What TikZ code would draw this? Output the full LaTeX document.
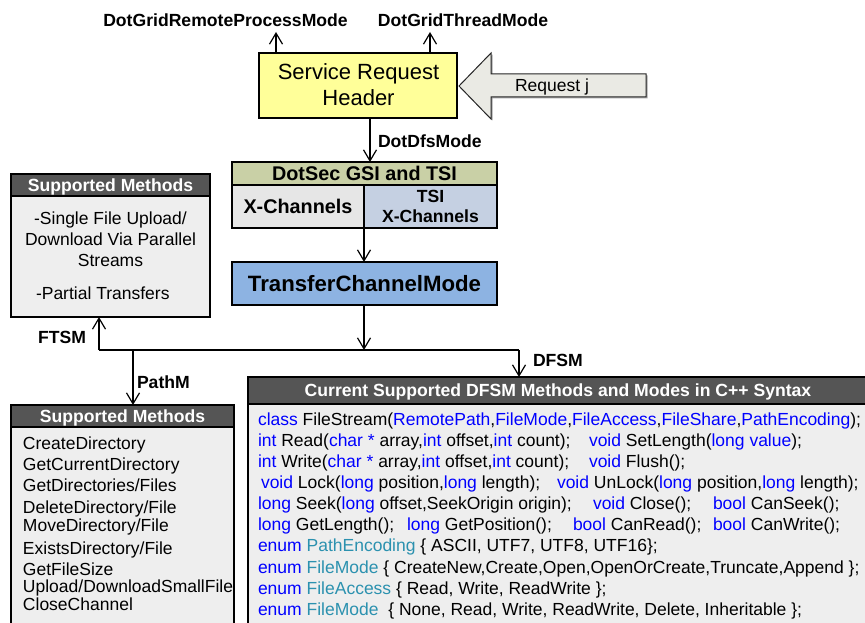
\documentclass[tikz,border=0pt]{standalone}
\usepackage{fontspec}
\setmainfont{Liberation Sans}
\usetikzlibrary{arrows.meta}
\definecolor{kwblue}{HTML}{0000FF}
\definecolor{tyteal}{HTML}{2B91AF}
\definecolor{hdrgray}{HTML}{555555}
\definecolor{bodygray}{HTML}{EEEEEE}
\definecolor{srhyellow}{HTML}{FFFF99}
\definecolor{dsolive}{HTML}{C9D0A6}
\definecolor{cellgray}{HTML}{E6E6E6}
\definecolor{cellblue}{HTML}{C5D0E2}
\definecolor{tcmblue}{HTML}{8DB3E2}
\definecolor{reqfill}{HTML}{EAEAE4}
\newcommand\kwd[1]{\textcolor{kwblue}{#1}}
\newcommand\tyn[1]{\textcolor{tyteal}{#1}}
\begin{document}
\begin{tikzpicture}[x=1pt,y=-1pt,
  every node/.style={inner sep=0pt,outer sep=0pt},
  conn/.style={line width=1.2pt,-{Straight Barb[length=11pt,width=13pt]}},
  plain/.style={line width=1.2pt},
  box/.style={draw=black,line width=1.3pt,rectangle,anchor=north west},
  hdr/.style={box,fill=hdrgray,text=white,font=\fontsize{17.6}{21}\selectfont\bfseries,text height=12.6pt,text depth=0pt},
  body/.style={box,fill=bodygray},
  txt/.style={font=\fontsize{17.5}{21}\selectfont},
  btxt/.style={font=\fontsize{17.6}{21}\selectfont\bfseries},
  codeline/.style={txt,anchor=base west}
]
\clip (0,0) rectangle (865,623);
\fill[white] (0,0) rectangle (865,623);

% top labels
\node[btxt,anchor=base] (lgrp) at (225.5,26.3) {DotGridRemoteProcessMode};
\node[btxt,anchor=base] (lgtm) at (463,26.3) {DotGridThreadMode};

% service request header
\node[box,fill=srhyellow,minimum width=198pt,minimum height=65pt] (srh) at (259,53) {};
\node[font=\fontsize{22}{26}\selectfont,anchor=base] (srh1) at (358.5,80) {Service Request};
\node[font=\fontsize{22}{26}\selectfont,anchor=base] (srh2) at (358.5,106) {Header};
\coordinate (up1) at (276,32);
\coordinate (up2) at (430,32);
\draw[conn] (up1 |- srh.north) -- (up1);
\draw[conn] (up2 |- srh.north) -- (up2);

% request arrow
\fill[gray!70] (460.5,87.5) -- (492.5,54.5) -- (492.5,75.5) -- (647.5,75.5) -- (647.5,98.5) -- (492.5,98.5) -- (492.5,120.5) -- cycle;
\draw[fill=reqfill,draw=black!85,line width=1pt] (459,86) -- (491,53) -- (491,74) -- (646,74) -- (646,97) -- (491,97) -- (491,119) -- cycle;
\node[txt,anchor=base] (req) at (552,91.5) {Request j};

% DotSec block
\node[box,fill=dsolive,minimum width=265pt,minimum height=23pt,font=\fontsize{19.8}{22}\selectfont\bfseries,text height=14.2pt,text depth=0pt] (dsh) at (232,162) {DotSec GSI and TSI};
\node[box,fill=cellgray,minimum width=132pt,minimum height=43pt,font=\fontsize{19.8}{22}\selectfont\bfseries,text height=14.2pt,text depth=0pt] (xc1) at (232,185) {X-Channels};
\node[box,fill=cellblue,minimum width=133pt,minimum height=43pt] (xc2) at (364,185) {};
\node[btxt,anchor=base] (tsi1) at (430.5,202.3) {TSI};
\node[btxt,anchor=base] (tsi2) at (430.5,222.3) {X-Channels};

\draw[conn] ([xshift=12pt]srh.south) -- ([xshift=12pt]srh.south |- dsh.north);
\node[btxt,anchor=base west] (ldfs) at (378,147.3) {DotDfsMode};

% TransferChannelMode
\node[box,fill=tcmblue,minimum width=265pt,minimum height=43pt,font=\fontsize{22.2}{26}\selectfont\bfseries,text height=15.9pt,text depth=0pt] (tcm) at (232,262) {TransferChannelMode};
\draw[conn] (xc1.south east) -- (xc1.south east |- tcm.north);

% distribution lines
\coordinate (jl) at (99,350);
\coordinate (jr) at (519,350);
\coordinate (jp) at (133,350);
\coordinate (jm) at (364,350);
\draw[conn] (jm |- tcm.south) -- (jm);
\draw[plain] (jl) -- (jr);

% top-left supported methods
\node[hdr,minimum width=199pt,minimum height=22pt] (sm1h) at (11,174) {Supported Methods};
\node[body,minimum width=199pt,minimum height=121pt] (sm1b) at (11,196) {};
\node[txt,anchor=base] (sm1l1) at (110.5,224.3) {-Single File Upload/};
\node[txt,anchor=base] (sm1l2) at (110.5,245.3) {Download Via Parallel};
\node[txt,anchor=base] (sm1l3) at (110.5,266.3) {Streams};
\node[txt,anchor=base west] (sm1l4) at (36,299.3) {-Partial Transfers};

% bottom-left supported methods
\node[hdr,minimum width=223pt,minimum height=22pt] (sm2h) at (11,405) {Supported Methods};
\node[body,minimum width=223pt,minimum height=230pt] (sm2b) at (11,427) {};
\node[codeline] (p1) at (23,449.3) {CreateDirectory};
\node[codeline] (p2) at (23,470.3) {GetCurrentDirectory};
\node[codeline] (p3) at (23,491.3) {GetDirectories/Files};
\node[codeline] (p4) at (23,513.3) {DeleteDirectory/File};
\node[codeline] (p5) at (23,531.3) {MoveDirectory/File};
\node[codeline] (p6) at (23,554.3) {ExistsDirectory/File};
\node[codeline] (p7) at (23,575.3) {GetFileSize};
\node[codeline] (p8) at (23,592.5) {Upload/DownloadSmallFile};
\node[codeline] (p9) at (23,610.3) {CloseChannel};

% DFSM box
\node[hdr,minimum width=620pt,minimum height=27pt] (dfh) at (248,377) {Current Supported DFSM Methods and Modes in C++ Syntax};
\node[body,minimum width=620pt,minimum height=240pt] (dfb) at (248,404) {};

% connectors from junction
\draw[conn] (jl) -- (jl |- sm1b.south);
\draw[conn] (jr) -- (jr |- dfh.north);
\draw[conn] (jp) -- (jp |- sm2h.north);
\node[btxt,anchor=base east] (lftsm) at (86,343.3) {FTSM};
\node[btxt,anchor=base west] (lpath) at (137,388.3) {PathM};
\node[btxt,anchor=base west] (ldfsm) at (533,366.3) {DFSM};

% code lines
\node[codeline] (c1) at (258,425.3) {\kwd{class} FileStream(\kwd{RemotePath},\kwd{FileMode},\kwd{FileAccess},\kwd{FileShare},\kwd{PathEncoding});};
\node[codeline] (c2a) at (258,446.4) {\kwd{int} Read(\kwd{char *} array,\kwd{int} offset,\kwd{int} count);};
\node[codeline] (c2b) at (589,446.4) {\kwd{void} SetLength(\kwd{long value});};
\node[codeline] (c3a) at (258,467.5) {\kwd{int} Write(\kwd{char *} array,\kwd{int} offset,\kwd{int} count);};
\node[codeline] (c3b) at (589,467.5) {\kwd{void} Flush();};
\node[codeline] (c4a) at (261,488.6) {\kwd{void} Lock(\kwd{long} position,\kwd{long} length);};
\node[codeline] (c4b) at (557,488.6) {\kwd{void} UnLock(\kwd{long} position,\kwd{long} length);};
\node[codeline] (c5a) at (258,509.7) {\kwd{long} Seek(\kwd{long} offset,SeekOrigin origin);};
\node[codeline] (c5b) at (593,509.7) {\kwd{void} Close();};
\node[codeline] (c5c) at (713,509.7) {\kwd{bool} CanSeek();};
\node[codeline] (c6a) at (258,530.8) {\kwd{long} GetLength();};
\node[codeline] (c6b) at (407,530.8) {\kwd{long} GetPosition();};
\node[codeline] (c6c) at (573,530.8) {\kwd{bool} CanRead();};
\node[codeline] (c6d) at (713,530.8) {\kwd{bool} CanWrite();};
\node[codeline] (c7) at (258,551.9) {\kwd{enum} \tyn{PathEncoding} \{ ASCII, UTF7, UTF8, UTF16\};};
\node[codeline] (c8) at (258,573.0) {\kwd{enum} \tyn{FileMode} \{ CreateNew,Create,Open,OpenOrCreate,Truncate,Append \};};
\node[codeline] (c9) at (258,594.1) {\kwd{enum} \tyn{FileAccess} \{ Read, Write, ReadWrite \};};
\node[codeline] (c10) at (258,615.2) {\kwd{enum} \tyn{FileMode}\ \ \{ None, Read, Write, ReadWrite, Delete, Inheritable \};};
\end{tikzpicture}
\end{document}
